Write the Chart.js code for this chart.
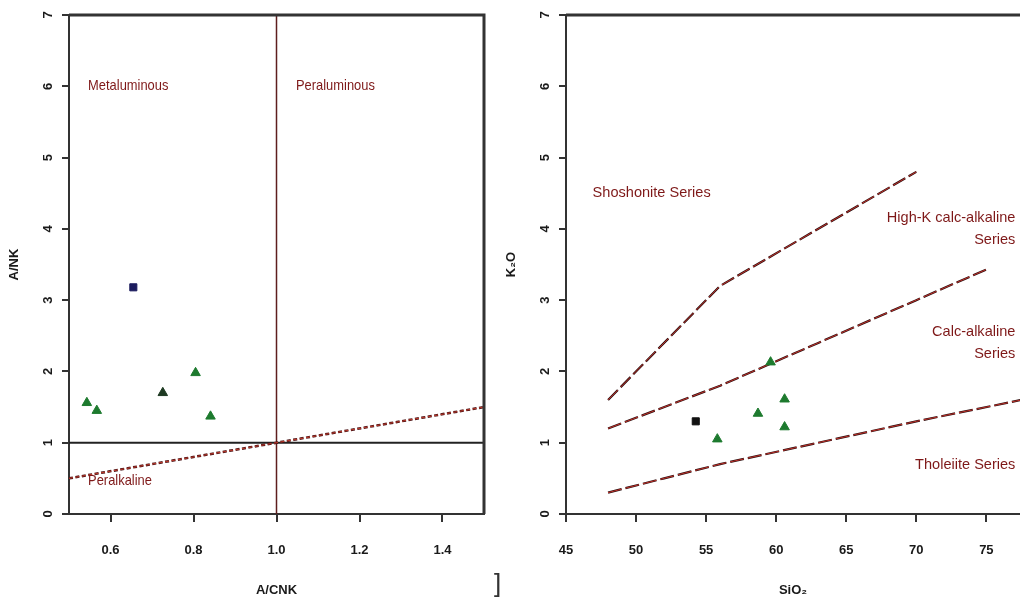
<!DOCTYPE html>
<html>
<head>
<meta charset="utf-8">
<script src="https://cdn.jsdelivr.net/npm/chart.js@4.4.0/dist/chart.umd.min.js"></script>
<style>
  body { margin: 0; background: #fff; width: 1020px; height: 600px; overflow: hidden; position: relative; }
  #left { position: absolute; left: 0; top: 0; }
  #right { position: absolute; left: 497px; top: 0; }
  .mark { position: absolute; left: 494px; top: 568px; font: 26px 'Liberation Sans', Arial, sans-serif; color: #333; }
</style>
</head>
<body>
<canvas id="left" width="500" height="600"></canvas>
<canvas id="right" width="523" height="600"></canvas>
<div class="mark">]</div>
<script>
// left panel: A/CNK vs A/NK
const acnkTicks = [0.6, 0.8, 1.0, 1.2, 1.4];
const kTicks = [0, 1, 2, 3, 4, 5, 6, 7];
const sqAcnk = [0.655];
const sqAnk = [3.18];
const triAcnk = [0.543, 0.567, 0.805, 0.841];
const triAnk = [1.56, 1.45, 1.98, 1.37];
const darkTriAcnk = [0.726];
const darkTriAnk = [1.70];
const equalLine = [0.5, 1.5];   // A/NK = A/CNK

// right panel: SiO2 vs K2O
const silicaTicks = [45, 50, 55, 60, 65, 70, 75];
const sqSi = [54.26];
const sqK = [1.30];
const triSi = [59.6, 55.8, 58.7, 60.6, 60.6];
const triK = [2.13, 1.05, 1.41, 1.61, 1.22];
const shoSi = [48, 56, 70];
const shoK = [1.6, 3.2, 4.8];
const calcSi = [48, 56, 63, 70, 75];
const calcK = [1.2, 1.8, 2.4, 3.0, 3.43];
const thoSi = [48, 52, 56, 63, 70, 78];
const thoK = [0.3, 0.5, 0.7, 1.0, 1.3, 1.62];

const zip = (xs, ys) => xs.map((x, i) => ({ x: x, y: ys[i] }));

const tickFont = { family: "'Liberation Sans', Arial, sans-serif", size: 13, weight: 'bold' };
const noteFont = "15px 'Liberation Sans', Arial, sans-serif";

// box lines + the region names
const framePlugin = {
    id: 'frame',
    afterDraw(chart, args, opts) {
        const { ctx, chartArea: a, scales } = chart;
        ctx.save();
        ctx.strokeStyle = '#333';
        ctx.lineWidth = 3;
        ctx.beginPath();
        ctx.moveTo(a.left, a.top);
        ctx.lineTo(a.right, a.top);
        if (opts.right) ctx.lineTo(a.right, a.bottom);
        ctx.stroke();
        ctx.font = noteFont;
        ctx.fillStyle = '#7e1818';
        ctx.textBaseline = 'middle';
        (opts.notes || []).forEach(n => {
            ctx.save();
            ctx.translate(scales.x.getPixelForValue(n.x), scales.y.getPixelForValue(n.y));
            ctx.scale(opts.squeeze, 1);
            ctx.textAlign = n.align;
            ctx.fillText(n.text, 0, 0);
            ctx.restore();
        });
        ctx.restore();
    }
};

function pointSet(data, style, color, radius) {
    return { data: data, pointStyle: style, pointRadius: radius, backgroundColor: color, borderColor: color, showLine: false };
}

function lineSet(data, color, width, dash, offset) {
    return { data: data, showLine: true, pointRadius: 0, borderColor: color, borderWidth: width, borderDash: dash || [], borderDashOffset: offset || 0 };
}

function makeChart(id, xMin, xMax, xTicks, fmt, xTitle, yTitle, datasets, frame, padRight) {
    return new Chart(document.getElementById(id), {
        type: 'scatter',
        data: { datasets: datasets },
        options: {
            responsive: false,
            animation: false,
            layout: { autoPadding: false, padding: { top: 15, right: padRight, left: 0, bottom: 0 } },
            plugins: { legend: { display: false }, tooltip: { enabled: false }, frame: frame },
            scales: {
                x: {
                    type: 'linear', min: xMin, max: xMax,
                    afterBuildTicks: s => { s.ticks = xTicks.map(v => ({ value: v })); },
                    afterFit: s => { s.height = 86; s.paddingLeft = 0; s.paddingRight = 0; },
                    ticks: { callback: fmt, padding: 21, color: '#1a1a1a', font: tickFont },
                    grid: { drawOnChartArea: false, tickLength: 8, color: '#333', lineWidth: 2 },
                    border: { color: '#333', width: 2 },
                    title: { display: true, text: xTitle, color: '#1a1a1a', font: tickFont, padding: { top: 0, bottom: 2 } }
                },
                y: {
                    type: 'linear', min: 0, max: 7,
                    afterBuildTicks: s => { s.ticks = kTicks.map(v => ({ value: v })); },
                    afterFit: s => { s.width = 69; s.paddingTop = 0; s.paddingBottom = 0; },
                    ticks: { minRotation: 90, maxRotation: 90, crossAlign: 'center', padding: 10, color: '#1a1a1a', font: tickFont },
                    grid: { drawOnChartArea: false, tickLength: 7, color: '#333', lineWidth: 2 },
                    border: { color: '#333', width: 2 },
                    title: { display: true, text: yTitle, color: '#1a1a1a', font: tickFont, padding: { top: 7, bottom: 0 } }
                }
            }
        },
        plugins: [framePlugin]
    });
}

makeChart('left', 0.5, 1.5, acnkTicks, v => v.toFixed(1), 'A/CNK', 'A/NK', [
    pointSet(zip(sqAcnk, sqAnk), 'rect', '#1c1c5e', 5),
    pointSet(zip(triAcnk, triAnk), 'triangle', '#1d7a2e', 5.5),
    pointSet(zip(darkTriAcnk, darkTriAnk), 'triangle', '#1e3a22', 5.5),
    lineSet(zip(equalLine, equalLine), '#c0392b', 1, [4, 2.5]),
    lineSet(zip(equalLine, equalLine), '#4a1416', 2.5, [4, 2.5]),
    lineSet([{ x: 1.0, y: 0 }, { x: 1.0, y: 7 }], '#5e1e1e', 1.5),
    lineSet([{ x: 0.5, y: 1 }, { x: 1.5, y: 1 }], '#222', 2)
], {
    right: true,
    squeeze: 0.86,
    notes: [
        { text: 'Metaluminous', x: 0.546, y: 6.0, align: 'left' },
        { text: 'Peraluminous', x: 1.047, y: 6.0, align: 'left' },
        { text: 'Peralkaline', x: 0.546, y: 0.46, align: 'left' }
    ]
}, 16);

makeChart('right', 45, 77.4, silicaTicks, v => String(v), 'SiO₂', 'K₂O', [
    pointSet(zip(sqSi, sqK), 'rect', '#111', 5),
    pointSet(zip(triSi, triK), 'triangle', '#1d7a2e', 5.5),
    lineSet(zip(shoSi, shoK), '#c0302a', 1, [14, 4]),
    lineSet(zip(shoSi, shoK), '#2a1010', 2.2, [14, 4]),
    lineSet(zip(calcSi, calcK), '#c0302a', 1, [14, 4]),
    lineSet(zip(calcSi, calcK), '#2a1010', 2.2, [14, 4]),
    lineSet(zip(thoSi, thoK), '#c0302a', 1, [14, 4]),
    lineSet(zip(thoSi, thoK), '#2a1010', 2.2, [14, 4])
], {
    right: false,
    squeeze: 0.97,
    notes: [
        { text: 'Shoshonite Series', x: 46.9, y: 4.51, align: 'left' },
        { text: 'High-K calc-alkaline', x: 77.07, y: 4.15, align: 'right' },
        { text: 'Series', x: 77.07, y: 3.84, align: 'right' },
        { text: 'Calc-alkaline', x: 77.07, y: 2.55, align: 'right' },
        { text: 'Series', x: 77.07, y: 2.24, align: 'right' },
        { text: 'Tholeiite Series', x: 77.07, y: 0.69, align: 'right' }
    ]
}, 0);
</script>
</body>
</html>
